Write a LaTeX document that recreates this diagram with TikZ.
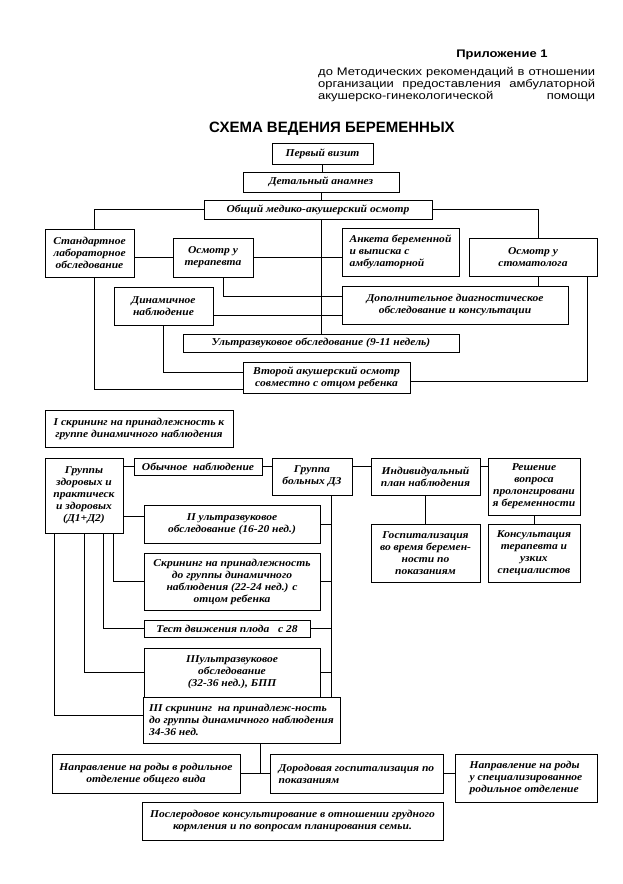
\documentclass[tikz,border=0pt]{standalone}
\usepackage{fontspec}
\setmainfont{Liberation Serif}
\newfontfamily\hdrfont[FakeStretch=1.18]{Liberation Sans}
\newfontfamily\ttlfont{Liberation Sans}
\newfontfamily\boxfont[FakeStretch=1.1]{Liberation Serif}
\usetikzlibrary{calc}

\begin{document}
\begin{tikzpicture}[x=1pt, y=-1pt,
    box/.style={draw, line width=0.8pt, align=center, inner sep=1pt,
        font=\boxfont\bfseries\itshape\fontsize{10.5}{12}\selectfont},
    link/.style={line width=0.7pt}]
    \useasboundingbox (0,0) rectangle (623,884);

    % Header
    \node[font=\hdrfont\bfseries\fontsize{11}{13}\selectfont] (app) at (502,55) {Приложение 1};
    \node[font=\hdrfont\fontsize{11}{12.2}\selectfont, align=left, anchor=north west, inner sep=0] (appto) at (318,67)
        {\makebox[277pt][s]{до Методических рекомендаций в отношении}\\
         \makebox[277pt][s]{организации предоставления амбулаторной}\\
         \makebox[277pt][s]{акушерско-гинекологической помощи}};
    \node[font=\ttlfont\bfseries\fontsize{15}{17}\selectfont] (title) at (332,129) {СХЕМА ВЕДЕНИЯ БЕРЕМЕННЫХ};

    % First visits
    \node[box, minimum width=101, minimum height=21] (visit) at (322.5,153.5) {Первый визит};
    \node[box, minimum width=156, minimum height=20] (anamn) at (321,182) {Детальный анамнез};
    \node[box, minimum width=228, minimum height=19] (exam) at (318,209.5) {Общий медико-акушерский осмотр};
    \node[box, minimum width=89, minimum height=48] (stand) at (89.5,253) {Стандартное\\ лабораторное\\ обследование};
    \node[box, minimum width=80, minimum height=39] (ther) at (213,257.5) {Осмотр у\\ терапевта};
    \node[box, minimum width=117, minimum height=48, align=left] (quest) at (400.5,252) {Анкета беременной\\ и выписка с\\ амбулаторной};
    \node[box, minimum width=128, minimum height=38] (dent) at (533,257) {Осмотр у\\ стоматолога};
    \node[box, minimum width=99, minimum height=38] (dyn) at (163.5,306) {Динамичное\\ наблюдение};
    \node[box, minimum width=226, minimum height=38] (extra) at (455,305) {Дополнительное диагностическое\\ обследование и консультации};
    \node[box, minimum width=276, minimum height=18] (us1) at (321,343) {Ультразвуковое обследование (9-11 недель)};
    \node[box, minimum width=167, minimum height=31] (second) at (326.5,377.5) {Второй акушерский осмотр\\ совместно с отцом ребенка};

    \draw[link] (visit.south) -- (visit.south |- anamn.north);
    \draw[link] (anamn.south) -- (anamn.south |- exam.north);
    \draw[link] (exam.west) -| ($(stand.north)+(4.5,0)$);
    \draw[link] (exam.east) -| ($(dent.north)+(5,0)$);
    \draw[link] (exam.south -| anamn.south) -- (us1.north -| anamn.south);
    \draw[link] (ther.west) -- (ther.west -| stand.east);
    \draw[link] (ther.east) -- (ther.east -| quest.west);
    \coordinate (thb) at ($(ther.south)+(10,0)$);
    \coordinate (exl) at ($(extra.west)+(0,-9)$);
    \draw[link] (thb) |- (exl);
    \coordinate (dynr) at ($(dyn.east)+(0,9)$);
    \draw[link] (dynr) -- (dynr -| extra.west);
    \coordinate (dtl) at ($(dent.south)+(5,0)$);
    \draw[link] (dtl) -- (dtl |- extra.north);
    \coordinate (dtr) at ($(dent.south)+(54,0)$);
    \coordinate (sdr) at ($(second.east)+(0,3.5)$);
    \draw[link] (dtr) |- (sdr);
    \coordinate (sdl) at ($(second.west)+(0,-5.5)$);
    \draw[link] (dyn.south) |- (sdl);
    \coordinate (stb) at ($(stand.south)+(5,0)$);
    \coordinate (sdl2) at ($(second.west)+(0,11.5)$);
    \draw[link] (stb) |- (sdl2);

    % Screening and groups
    \node[box, minimum width=188, minimum height=37] (scr1) at (139,428.5) {I скрининг на принадлежность к\\ группе динамичного наблюдения};
    \node[box, minimum width=78, minimum height=75] (healthy) at (84,495.5) {Группы\\ здоровых и\\ практическ\\ и здоровых\\ (Д1+Д2)};
    \node[box, minimum width=128, minimum height=17] (usual) at (198,466.5) {Обычное\ \ наблюдение};
    \node[box, minimum width=80, minimum height=37] (sick) at (312,476.5) {Группа\\ больных ДЗ};
    \node[box, minimum width=109, minimum height=37] (plan) at (425.5,476.5) {Индивидуальный\\ план наблюдения};
    \node[box, minimum width=92, minimum height=57] (decide) at (534,486.5) {Решение\\ вопроса\\ пролонгировани\\ я беременности};
    \node[box, minimum width=109, minimum height=58] (hosp) at (425.5,553) {Госпитализация\\ во время беремен-\\ ности по\\ показаниям};
    \node[box, minimum width=92, minimum height=58] (consult) at (534,553) {Консультация\\ терапевта и\\ узких\\ специалистов};
    \node[box, minimum width=176, minimum height=38] (us2) at (232,524) {II ультразвуковое\\ обследование (16-20 нед.)};
    \node[box, minimum width=176, minimum height=57] (scr2) at (232,581.5) {Скрининг на принадлежность\\ до группы динамичного\\ наблюдения (22-24 нед.) с\\ отцом ребенка};
    \node[box, minimum width=166, minimum height=17] (move) at (227,628.5) {Тест движения плода\ \ \ с 28};
    \node[box, minimum width=176, minimum height=49] (us3) at (232,672.5) {IIIультразвуковое\\ обследование\\ (32-36 нед.), БПП};
    \node[box, minimum width=197, minimum height=46, align=left] (scr3) at (241.5,720) {III скрининг\ \ на принадлеж-ность\\ до группы динамичного наблюдения\\ 34-36 нед.};

    \draw[link] (usual.west) -- (usual.west -| healthy.east);
    \draw[link] (usual.east) -- (usual.east -| sick.west);
    \draw[link] (usual.east -| sick.east) -- (usual.east -| plan.west);
    \draw[link] (usual.east -| plan.east) -- (usual.east -| decide.west);
    \draw[link] (plan.south) -- (plan.south |- hosp.north);
    \draw[link] (decide.south) -- (decide.south |- consult.north);
    \coordinate (vb) at ($(sick.south)+(19,0)$);
    \draw[link] (vb) -- (vb |- scr3.north);
    \draw[link] (us2.east) -- (us2.east -| vb);
    \draw[link] (scr2.east) -- (scr2.east -| vb);
    \draw[link] (move.east) -- (move.east -| vb);
    \draw[link] (us3.east) -- (us3.east -| vb);
    \coordinate (hl) at ($(us2.west)+(0,-8)$);
    \draw[link] (hl) -- (hl -| healthy.east);
    \draw[link] ($(healthy.south)+(29,0)$) |- (scr2.west);
    \draw[link] ($(healthy.south)+(19,0)$) |- (move.west);
    \draw[link] (healthy.south) |- (us3.west);
    \draw[link] ($(healthy.south)+(-30,0)$) |- ($(scr3.west)+(0,-5)$);

    % Delivery
    \node[box, minimum width=188, minimum height=39] (birth1) at (146,773.5) {Направление на роды в родильное\\ отделение общего вида};
    \node[box, minimum width=173, minimum height=39, align=left] (prenat) at (356.5,773.5) {Дородовая госпитализация по\\ показаниям};
    \node[box, minimum width=142, minimum height=48, align=left] (birth2) at (526,778) {Направление на роды\\ у специализированное\\ родильное отделение};
    \node[box, minimum width=301, minimum height=38] (post) at (292.5,821) {Послеродовое консультирование в отношении грудного\\ кормления и по вопросам планирования семьи.};

    \coordinate (s3b) at ($(scr3.south)+(18.5,0)$);
    \draw[link] (s3b) -- (s3b |- birth1.east);
    \draw[link] (birth1.east) -- (prenat.west);
    \draw[link] (prenat.east) -- (prenat.east -| birth2.west);
\end{tikzpicture}
\end{document}
